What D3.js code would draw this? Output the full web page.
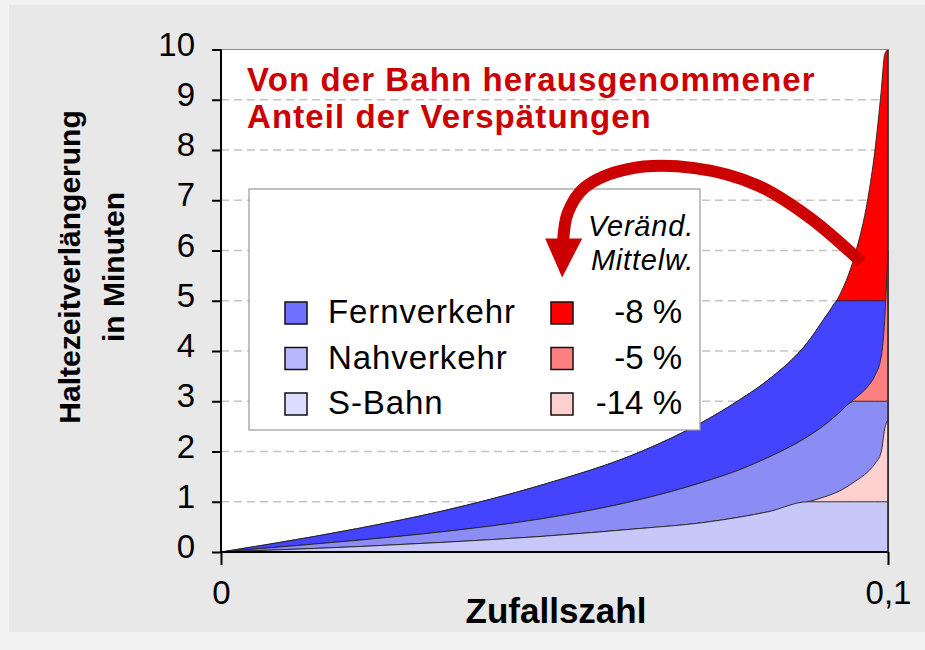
<!DOCTYPE html>
<html lang="de">
<head>
<meta charset="UTF-8">
<title>Haltezeitverlängerung</title>
<script src="https://d3js.org/d3.v7.min.js"></script>
<style>
  body { margin: 0; padding: 0; background: #f2f2f2; }
  svg { display: block; font-family: "Liberation Sans", Arial, sans-serif; }
</style>
</head>
<body>
<script>
// Zufallszahl (x) und Haltezeitverlängerung in Minuten je Verkehrsart
var zufall      = [0, 0.007, 0.021, 0.033, 0.048, 0.063, 0.072, 0.078, 0.082, 0.088, 0.091, 0.0925, 0.095, 0.097, 0.098, 0.099, 0.0995, 0.1];
var fernverkehr = [0, 0.15, 0.48, 0.81, 1.33, 2.00, 2.57, 3.05, 3.42, 4.18, 4.75, 5.05, 5.90, 7.05, 7.95, 9.20, 9.90, 10];
var nahverkehr  = [0, 0.08, 0.24, 0.40, 0.66, 1.05, 1.38, 1.65, 1.88, 2.30, 2.58, 2.75, 3.05, 3.30, 3.50, 3.90, 4.60, 6.0];
var sBahn       = [0, 0.035, 0.11, 0.19, 0.31, 0.47, 0.58, 0.70, 0.80, 1.00, 1.12, 1.20, 1.40, 1.60, 1.75, 2.00, 2.45, 2.63];

var reihen     = ["Fernverkehr", "Nahverkehr", "S-Bahn"];
var grenzen    = [5, 3, 1];           // herausgenommene Verspätungen oberhalb
var aenderung  = ["-8 %", "-5 %", "-14 %"];
var yTicks     = [0, 1, 2, 3, 4, 5, 6, 7, 8, 9, 10];
var xTicks     = [0, 0.1];
var xTickText  = ["0", "0,1"];

// Pfeil (in Datenkoordinaten)
var pfeilX = [0.0960, 0.0883, 0.0804, 0.0710, 0.0610, 0.0545, 0.0520, 0.0513];
var pfeilY = [5.77, 6.65, 7.30, 7.64, 7.62, 7.25, 6.75, 6.20];

var blau = ["#4444ff", "#8c8cf5", "#c8c8f8"];
var rot  = ["#ff0000", "#ff8080", "#ffd0d0"];
var legBlau = ["#7070ff", "#b8b8ff", "#dcdcff"];

var width = 925, height = 650;

var svg = d3.select("body").append("svg")
    .attr("width", width)
    .attr("height", height);

// grauer Hintergrund
svg.append("rect").attr("x", 9).attr("y", 5).attr("width", width - 9).attr("height", 627).attr("fill", "#e8e8e8");

var x = d3.scaleLinear().domain([0, 0.1]).range([221, 888]);
var y = d3.scaleLinear().domain([0, 10]).range([552, 49.5]);

// Zeichenfläche
svg.append("rect")
    .attr("x", x(0)).attr("y", y(10))
    .attr("width", x(0.1) - x(0)).attr("height", y(0) - y(10))
    .attr("fill", "white");

// Gitterlinien
svg.append("g").selectAll("line")
    .data(yTicks.filter(function (d) { return d > 0 && d < 10; }))
    .enter().append("line")
    .attr("x1", x(0)).attr("x2", x(0.1))
    .attr("y1", function (d) { return y(d); }).attr("y2", function (d) { return y(d); })
    .attr("stroke", "#c4c4c4")
    .attr("stroke-width", 1.3)
    .attr("stroke-dasharray", "8,5");

var serien = [fernverkehr, nahverkehr, sBahn];

function flaeche(werte, cap) {
    var pts = zufall.map(function (u, i) { return [u, cap == null ? werte[i] : Math.min(werte[i], cap)]; });
    return d3.area()
        .x(function (d) { return x(d[0]); })
        .y0(y(0))
        .y1(function (d) { return y(d[1]); })
        .curve(d3.curveMonotoneX)(pts);
}

var areas = svg.append("g");
serien.forEach(function (werte, i) {
    areas.append("path")
        .attr("d", flaeche(werte, null))
        .attr("fill", rot[i])
        .attr("stroke", "#222")
        .attr("stroke-width", 0.9);
    areas.append("path")
        .attr("d", flaeche(werte, grenzen[i]))
        .attr("fill", blau[i])
        .attr("stroke", "#222")
        .attr("stroke-width", 0.9);
});

// Rahmen oben / rechts
svg.append("line").attr("x1", x(0)).attr("x2", x(0.1)).attr("y1", y(10)).attr("y2", y(10))
    .attr("stroke", "#888").attr("stroke-width", 1.2);
svg.append("line").attr("x1", x(0.1)).attr("x2", x(0.1)).attr("y1", y(10)).attr("y2", y(0))
    .attr("stroke", "#333").attr("stroke-width", 1.5);

// Achsen
var yAxis = svg.append("g")
    .attr("transform", "translate(" + x(0) + ",0)")
    .call(d3.axisLeft(y).tickValues(yTicks).tickFormat(d3.format("d")).tickSize(9).tickSizeOuter(0).tickPadding(17));
yAxis.selectAll("text").attr("font-size", 33).attr("dy", "0.17em").attr("fill", "#000");

var xAxis = svg.append("g")
    .attr("transform", "translate(0," + y(0) + ")")
    .call(d3.axisBottom(x).tickValues(xTicks).tickFormat(function (d, i) { return xTickText[i]; }).tickSize(13).tickSizeOuter(0).tickPadding(16));
xAxis.selectAll("text").attr("font-size", 33).attr("fill", "#000");

svg.selectAll(".domain, .tick line").attr("stroke", "#000").attr("stroke-width", 2);
yAxis.select(".domain").attr("d", "M0," + y(10) + "V" + y(0));
xAxis.select(".domain").attr("d", "M" + x(0) + ",0H" + x(0.1));

// Titel
var titel = svg.append("text")
    .attr("fill", "#cc0000")
    .attr("font-weight", "bold")
    .attr("font-size", 33)
    .attr("letter-spacing", 1.1);
titel.append("tspan").attr("x", 247).attr("y", 91).text("Von der Bahn herausgenommener");
titel.append("tspan").attr("x", 247).attr("y", 128).text("Anteil der Verspätungen");

// Achsentitel
var yTitel = svg.append("text")
    .attr("transform", "translate(80,267) rotate(-90)")
    .attr("text-anchor", "middle")
    .attr("font-weight", "bold")
    .attr("font-size", 30);
yTitel.append("tspan").attr("x", 0).attr("y", 0).text("Haltezeitverlängerung");
yTitel.append("tspan").attr("x", 0).attr("y", 44).text("in Minuten");

svg.append("text")
    .attr("x", 556).attr("y", 623)
    .attr("text-anchor", "middle")
    .attr("font-weight", "bold")
    .attr("font-size", 35)
    .text("Zufallszahl");

// Legende
var leg = svg.append("g");
leg.append("rect")
    .attr("x", 249).attr("y", 189).attr("width", 451).attr("height", 241)
    .attr("fill", "white").attr("stroke", "#999").attr("stroke-width", 1.2);

var kopf = leg.append("text")
    .attr("text-anchor", "end")
    .attr("font-style", "italic")
    .attr("font-size", 29)
    .attr("letter-spacing", 0.8);
kopf.append("tspan").attr("x", 694).attr("y", 236).text("Veränd.");
kopf.append("tspan").attr("x", 694).attr("y", 270).text("Mittelw.");

var zeilen = leg.selectAll(".zeile")
    .data(reihen)
    .enter().append("g")
    .attr("class", "zeile")
    .attr("transform", function (d, i) { return "translate(0," + (302 + i * 45.5) + ")"; });

zeilen.append("rect")
    .attr("x", 285).attr("y", 0).attr("width", 22).attr("height", 22)
    .attr("fill", function (d, i) { return legBlau[i]; })
    .attr("stroke", "#111").attr("stroke-width", 1.5);
zeilen.append("text")
    .attr("x", 328).attr("y", 21)
    .attr("font-size", 33)
    .attr("letter-spacing", 0.9)
    .text(function (d) { return d; });
zeilen.append("rect")
    .attr("x", 551).attr("y", 0).attr("width", 22).attr("height", 22)
    .attr("fill", function (d, i) { return rot[i]; })
    .attr("stroke", "#111").attr("stroke-width", 1.5);
zeilen.append("text")
    .attr("x", 682).attr("y", 21)
    .attr("text-anchor", "end")
    .attr("font-size", 33)
    .text(function (d, i) { return aenderung[i]; });

// Pfeil
var pfeilPts = pfeilX.map(function (u, i) { return [x(u), y(pfeilY[i])]; });
svg.append("path")
    .attr("d", d3.line().curve(d3.curveCatmullRom)(pfeilPts))
    .attr("fill", "none")
    .attr("stroke", "#cc0000")
    .attr("stroke-width", 12);
var ende = pfeilPts[pfeilPts.length - 1];
svg.append("path")
    .attr("d", "M" + (ende[0] - 18) + "," + (ende[1] - 2) + "L" + (ende[0] + 19) + "," + (ende[1] - 2) + "L" + (ende[0] - 1) + "," + (ende[1] + 37) + "Z")
    .attr("fill", "#cc0000");
</script>
</body>
</html>
